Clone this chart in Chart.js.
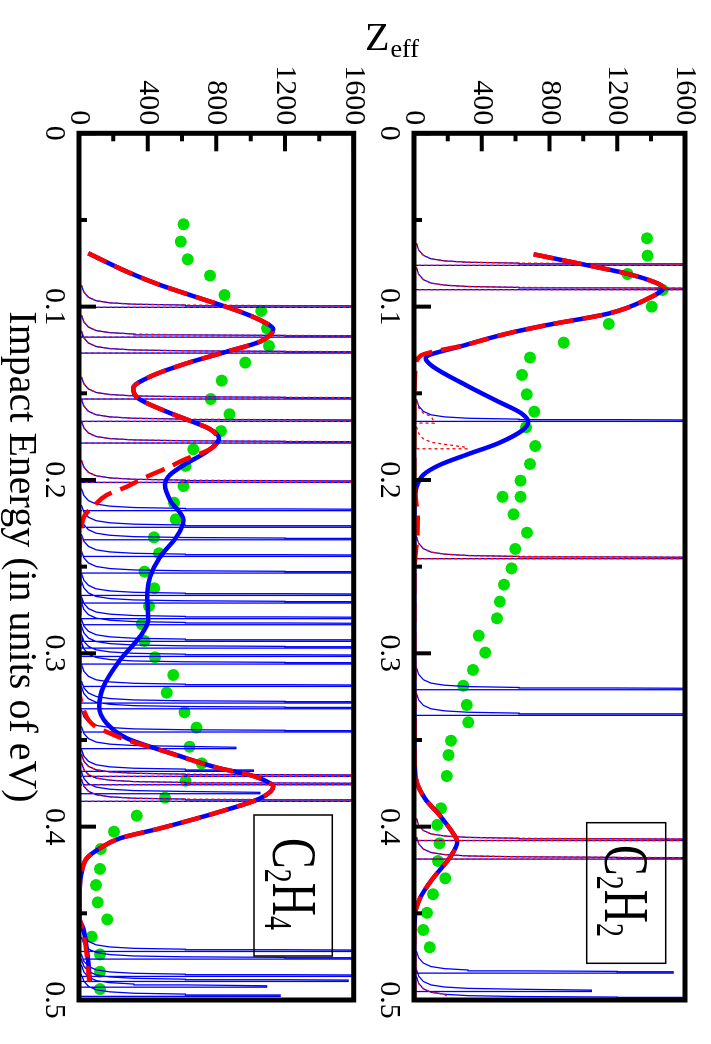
<!DOCTYPE html>
<html>
<head>
<meta charset="utf-8">
<script src="https://cdn.jsdelivr.net/npm/chart.js@4.4.1/dist/chart.umd.min.js"></script>
<style>
  html, body { margin: 0; padding: 0; background: #fff; overflow: hidden; }
  /* the figure is laid out landscape and turned a quarter clockwise */
  #figure {
    position: absolute; left: 0; top: 0;
    width: 1044px; height: 711px;
    transform-origin: 0 0;
    transform: translateX(711px) rotate(90deg);
    font-family: "Liberation Serif", serif;
  }
  #figure canvas { position: absolute; left: 0; top: 0; }
</style>
</head>
<body>
<div id="figure">
  <canvas id="c2h2" width="1044" height="711"></canvas>
  <canvas id="c2h4" width="1044" height="711"></canvas>
</div>
<script>
const ENERGY_TICKS = [0, 0.1, 0.2, 0.3, 0.4, 0.5];
const ZEFF_TICKS = [0, 400, 800, 1200, 1600];

// ---- C2H2 ----
const c2h2ExpE = [0.0606, 0.0706, 0.0812, 0.0904, 0.100, 0.110, 0.1208, 0.1294, 0.1394, 0.1506, 0.1606, 0.1696, 0.1804, 0.1908, 0.2004, 0.2097, 0.2097, 0.2198, 0.2304, 0.2398, 0.251, 0.2604, 0.2702, 0.2798, 0.2898, 0.2996, 0.3096, 0.3187, 0.3298, 0.3398, 0.3504, 0.3587, 0.3708, 0.3894, 0.399, 0.4096, 0.4198, 0.4298, 0.439, 0.4497, 0.4596, 0.4696];
const c2h2ExpZ = [1375, 1379, 1260, 1468, 1404, 1150, 884, 685, 637, 666, 710, 661, 716, 685, 629, 523, 629, 588, 667, 598, 575, 532, 507, 490, 382, 421, 349, 291, 311, 320, 218, 204, 193, 160, 137, 150, 141, 185, 112, 77, 54, 93];

const c2h2BlueE = [0.0698, 0.076, 0.0808, 0.0846, 0.0891, 0.0952, 0.1039, 0.1106, 0.1154, 0.1221, 0.1298, 0.1346, 0.1452, 0.1548, 0.1615, 0.1664, 0.1712, 0.1788, 0.1856, 0.1914, 0.1971, 0.2039, 0.215, 0.26, 0.31, 0.36, 0.372, 0.3837, 0.3933, 0.4048, 0.4087, 0.4183, 0.4298, 0.4413, 0.451, 0.465, 0.5];
const c2h2BlueZ = [706, 1018, 1250, 1385, 1472, 1385, 1153, 787, 556, 305, 69, 112, 305, 498, 633, 675, 642, 498, 305, 150, 54, 15, 3, 2, 2, 3, 10, 64, 150, 237, 256, 208, 112, 35, 6, 2, 2];

const c2h2RedE = [0.0698, 0.076, 0.0808, 0.0846, 0.0891, 0.0952, 0.1039, 0.1106, 0.1154, 0.1221, 0.1283, 0.135, 0.16, 0.2, 0.212, 0.222, 0.232, 0.242, 0.255, 0.3, 0.36, 0.372, 0.3837, 0.3933, 0.4048, 0.4087, 0.4183, 0.4298, 0.4413, 0.451, 0.465, 0.5];
const c2h2RedZ = [706, 1018, 1250, 1385, 1472, 1385, 1153, 787, 556, 305, 39, 8, 2, 2, 12, 22, 20, 10, 2, 2, 3, 10, 64, 150, 237, 256, 208, 112, 35, 6, 2, 2];

// resonance lines: energy, peak height (1700 = runs off the top), which curve has it
const c2h2SpikeE = [0.0754, 0.0894, 0.1654, 0.1664, 0.1812, 0.2446, 0.3202, 0.335, 0.4072, 0.4179, 0.4837, 0.4943, 0.4985, 0.4985];
const c2h2SpikeTop = [1700, 1700, 1700, 120, 313, 1700, 1700, 1700, 1700, 1700, 1530, 1047, 1700, 200];
const c2h2SpikeKind = ['both', 'both', 'blue', 'red', 'red', 'both', 'blue', 'blue', 'both', 'both', 'blue', 'blue', 'blue', 'red'];

// ---- C2H4 ----
const c2h4ExpE = [0.0525, 0.0625, 0.0727, 0.0821, 0.0933, 0.1025, 0.1125, 0.1227, 0.1323, 0.1427, 0.1533, 0.1621, 0.1718, 0.1823, 0.1919, 0.2035, 0.2131, 0.2227, 0.2331, 0.2423, 0.2529, 0.2625, 0.2727, 0.2831, 0.2929, 0.3023, 0.3125, 0.3227, 0.334, 0.3429, 0.3539, 0.3635, 0.3735, 0.3833, 0.3937, 0.4029, 0.4129, 0.4244, 0.4337, 0.4437, 0.4535, 0.4635, 0.4737, 0.4837, 0.4937];
const c2h4ExpZ = [608, 592, 633, 763, 847, 1062, 1095, 1107, 969, 831, 767, 876, 827, 666, 621, 608, 553, 563, 437, 466, 381, 439, 408, 365, 381, 443, 549, 511, 614, 685, 643, 715, 621, 501, 336, 204, 126, 122, 99, 109, 165, 74, 122, 122, 122];

const c2h4BlueE = [0.0692, 0.0798, 0.0875, 0.0952, 0.1029, 0.1087, 0.1129, 0.1202, 0.126, 0.1327, 0.1404, 0.1471, 0.1529, 0.1606, 0.166, 0.1705, 0.176, 0.1837, 0.1904, 0.1971, 0.2029, 0.2116, 0.2231, 0.2327, 0.2443, 0.2558, 0.2654, 0.2808, 0.2904, 0.3039, 0.3193, 0.3308, 0.3404, 0.349, 0.3587, 0.3664, 0.3702, 0.375, 0.3769, 0.3837, 0.3914, 0.401, 0.4067, 0.4125, 0.4183, 0.426, 0.44, 0.453, 0.4587, 0.4702, 0.4894];
const c2h4BlueZ = [54, 278, 472, 705, 938, 1074, 1132, 1054, 860, 627, 414, 316, 345, 511, 650, 760, 815, 744, 627, 530, 501, 530, 608, 569, 472, 414, 398, 404, 355, 239, 142, 118, 161, 278, 569, 821, 996, 1113, 1132, 1054, 821, 472, 239, 122, 45, 16, 3, 3, 25, 45, 64];

const c2h4RedE = [0.0692, 0.0798, 0.0875, 0.0952, 0.1029, 0.1087, 0.1129, 0.1202, 0.126, 0.1327, 0.1404, 0.1471, 0.1529, 0.1606, 0.166, 0.1705, 0.176, 0.1817, 0.1885, 0.1923, 0.199, 0.2039, 0.2087, 0.2154, 0.2202, 0.2308, 0.245, 0.32, 0.3346, 0.3413, 0.3462, 0.35, 0.3558, 0.3664, 0.3702, 0.375, 0.3769, 0.3837, 0.3914, 0.401, 0.4067, 0.4125, 0.4183, 0.426, 0.44, 0.453, 0.4587, 0.4702, 0.4894];
const c2h4RedZ = [54, 278, 472, 705, 938, 1074, 1132, 1054, 860, 627, 414, 316, 345, 511, 650, 760, 805, 773, 608, 530, 375, 278, 161, 83, 35, 10, 3, 3, 35, 83, 181, 278, 472, 821, 996, 1113, 1132, 1054, 821, 472, 239, 122, 45, 16, 3, 3, 20, 40, 60];

const c2h4SpikeE = [0.0996, 0.1168, 0.126, 0.1525, 0.1654, 0.1779, 0.2006, 0.2169, 0.2265, 0.2337, 0.2433, 0.2529, 0.2658, 0.2702, 0.2792, 0.2827, 0.2923, 0.2962, 0.301, 0.3054, 0.3183, 0.3279, 0.3312, 0.3446, 0.3542, 0.3673, 0.3702, 0.375, 0.3802, 0.3846, 0.4712, 0.4756, 0.4856, 0.4885, 0.4918, 0.4971];
const c2h4SpikeTop = [1700, 1700, 1700, 1700, 1700, 1700, 1700, 1700, 1700, 1700, 1700, 1700, 1700, 1700, 1700, 1700, 1700, 1700, 1700, 1700, 1700, 1700, 1700, 1700, 914, 1015, 1700, 1700, 1054, 1700, 1700, 1700, 1700, 1567, 1093, 1171];
const c2h4SpikeKind = ['both', 'both', 'both', 'both', 'both', 'both', 'both', 'blue', 'blue', 'blue', 'blue', 'blue', 'blue', 'blue', 'blue', 'blue', 'blue', 'blue', 'blue', 'blue', 'blue', 'blue', 'blue', 'blue', 'blue', 'blue', 'both', 'both', 'blue', 'both', 'blue', 'blue', 'blue', 'blue', 'blue', 'blue'];

// low-energy tail shared by every resonance line (offset from line, height)
const FOOT_DE = [-0.012, -0.008, -0.005, -0.003, -0.0018, -0.001, -0.0005, -0.0002];
const FOOT_Z = [14, 28, 55, 100, 180, 320, 620, 1200];
const SPIKE_W = 0.0008;

const BLUE = '#0000ff';
const RED = '#ff0000';
const GREEN = '#00e000';
const SERIF = '"Liberation Serif", "Times New Roman", serif';

function pairs(xs, ys) {
  return xs.map((x, i) => ({ x, y: ys[i] }));
}

function spikeSeries(energies, tops, kinds, wanted) {
  const pts = [];
  energies.forEach((e, i) => {
    if (!wanted.includes(kinds[i])) return;
    const top = tops[i];
    FOOT_DE.forEach((d, j) => {
      if (FOOT_Z[j] < top) pts.push({ x: e + d, y: FOOT_Z[j] });
    });
    pts.push({ x: e, y: top }, { x: e + SPIKE_W, y: top }, { x: e + SPIKE_W, y: 0 }, { x: e + SPIKE_W, y: null });
  });
  return pts;
}

function drawFormula(ctx, parts, x, baseline, size, subSize, stretch) {
  ctx.save();
  ctx.translate(x, baseline);
  ctx.scale(1, stretch);
  ctx.fillStyle = '#000';
  ctx.textAlign = 'left';
  ctx.textBaseline = 'alphabetic';
  let cx = 0;
  parts.forEach(([txt, sub]) => {
    ctx.font = (sub ? subSize : size) + 'px ' + SERIF;
    ctx.fillText(txt, cx, sub ? 6 : 0);
    cx += ctx.measureText(txt).width;
  });
  ctx.restore();
}

// frame plus inward major/minor tick marks, placed through the chart scales
const frameTicks = {
  id: 'frameTicks',
  afterDatasetsDraw(chart) {
    const { ctx, chartArea: a, scales: { x, y } } = chart;
    ctx.save();
    ctx.strokeStyle = '#000';
    ctx.lineWidth = 4;
    ctx.beginPath();
    ENERGY_TICKS.forEach((v, i) => {
      const px = x.getPixelForValue(v);
      ctx.moveTo(px, a.bottom); ctx.lineTo(px, a.bottom - 17);
      if (i < ENERGY_TICKS.length - 1) {
        const mx = x.getPixelForValue((v + ENERGY_TICKS[i + 1]) / 2);
        ctx.moveTo(mx, a.bottom); ctx.lineTo(mx, a.bottom - 8);
      }
    });
    ZEFF_TICKS.forEach((v, i) => {
      const py = y.getPixelForValue(v);
      ctx.moveTo(a.left, py); ctx.lineTo(a.left + 18, py);
      if (i < ZEFF_TICKS.length - 1) {
        const my = y.getPixelForValue((v + ZEFF_TICKS[i + 1]) / 2);
        ctx.moveTo(a.left, my); ctx.lineTo(a.left + 8, my);
      }
    });
    ctx.stroke();
    ctx.lineWidth = 5;
    ctx.strokeRect(a.left, a.top, a.right - a.left, a.bottom - a.top);
    ctx.restore();
  }
};

// molecule label in a box, and the shared axis titles
const annotations = {
  id: 'annotations',
  afterDraw(chart, args, opts) {
    const { ctx } = chart;
    ctx.save();
    ctx.strokeStyle = '#000';
    ctx.lineWidth = 1.5;
    ctx.strokeRect(opts.box[0], opts.box[1], opts.box[2], opts.box[3]);
    drawFormula(ctx, opts.formula, opts.textX, opts.textY, 46, 28, 1.4);
    if (opts.titles) {
      ctx.fillStyle = '#000';
      ctx.font = '40px ' + SERIF;
      ctx.textAlign = 'center';
      ctx.textBaseline = 'alphabetic';
      ctx.fillText('Impact Energy (in units of eV)', 557, 701);
      ctx.translate(50, 346);
      ctx.rotate(-Math.PI / 2);
      ctx.textAlign = 'left';
      ctx.fillText('Z', 0, 0);
      const zw = ctx.measureText('Z').width;
      ctx.font = '26px ' + SERIF;
      ctx.fillText('eff', zw + 1, 7);
    }
    ctx.restore();
  }
};

function makePanel(canvasId, padTop, padBottom, series, labelOpts) {
  return new Chart(document.getElementById(canvasId), {
    type: 'line',
    data: {
      datasets: [
        { data: pairs(series.expE, series.expZ), showLine: false, pointRadius: 6, pointBackgroundColor: GREEN, pointBorderWidth: 0, order: 5 },
        { data: spikeSeries(series.spikeE, series.spikeTop, series.spikeKind, ['both', 'blue']), borderColor: BLUE, borderWidth: 1.3, pointRadius: 0, order: 4 },
        { data: spikeSeries(series.spikeE, series.spikeTop, series.spikeKind, ['both', 'red']), borderColor: RED, borderWidth: 1.3, borderDash: [3, 3], pointRadius: 0, order: 3 },
        { data: pairs(series.blueE, series.blueZ), borderColor: BLUE, borderWidth: 4.5, pointRadius: 0, cubicInterpolationMode: 'monotone', order: 2 },
        { data: pairs(series.redE, series.redZ), borderColor: RED, borderWidth: 4.5, borderDash: [20, 9], pointRadius: 0, cubicInterpolationMode: 'monotone', order: 1 },
      ],
    },
    options: {
      responsive: false,
      animation: false,
      events: [],
      layout: { padding: { top: padTop, right: 44, bottom: padBottom, left: 0 } },
      plugins: {
        legend: { display: false },
        tooltip: { enabled: false },
        annotations: labelOpts,
      },
      scales: {
        x: {
          type: 'linear',
          min: 0,
          max: 0.5,
          afterBuildTicks: s => { s.ticks = ENERGY_TICKS.map(value => ({ value })); },
          afterFit: s => { s.height = 50; },
          grid: { display: false, drawTicks: false },
          border: { display: false },
          ticks: { color: '#000', font: { family: SERIF, size: 30 }, padding: 7, maxRotation: 0, minRotation: 0, autoSkip: false, callback: v => String(v) },
        },
        y: {
          min: 0,
          max: 1600,
          afterBuildTicks: s => { s.ticks = ZEFF_TICKS.map(value => ({ value })); },
          afterFit: s => { s.width = 133.3; },
          grid: { display: false, drawTicks: false },
          border: { display: false },
          ticks: { color: '#000', font: { family: SERIF, size: 30 }, padding: 8, callback: v => String(v) },
        },
      },
    },
    plugins: [frameTicks, annotations],
  });
}

function drawFigure() {
  makePanel('c2h2', 20.5, 711 - 297 - 50, {
    expE: c2h2ExpE, expZ: c2h2ExpZ,
    blueE: c2h2BlueE, blueZ: c2h2BlueZ,
    redE: c2h2RedE, redZ: c2h2RedZ,
    spikeE: c2h2SpikeE, spikeTop: c2h2SpikeTop, spikeKind: c2h2SpikeKind,
  }, {
    box: [822.7, 45.3, 140.6, 79],
    formula: [['C', false], ['2', true], ['H', false], ['2', true]],
    textX: 845, textY: 106,
    titles: false,
  });

  makePanel('c2h4', 357.3, 711 - 632 - 50, {
    expE: c2h4ExpE, expZ: c2h4ExpZ,
    blueE: c2h4BlueE, blueZ: c2h4BlueZ,
    redE: c2h4RedE, redZ: c2h4RedZ,
    spikeE: c2h4SpikeE, spikeTop: c2h4SpikeTop, spikeKind: c2h4SpikeKind,
  }, {
    box: [815, 378.7, 141, 78.3],
    formula: [['C', false], ['2', true], ['H', false], ['4', true]],
    textX: 838, textY: 437.7,
    titles: true,
  });
}

// make sure the serif face is ready before anything is painted
Promise.all([
  document.fonts.load('30px "Liberation Serif"'),
  document.fonts.load('40px "Liberation Serif"'),
]).catch(() => {}).then(drawFigure);
</script>
</body>
</html>
